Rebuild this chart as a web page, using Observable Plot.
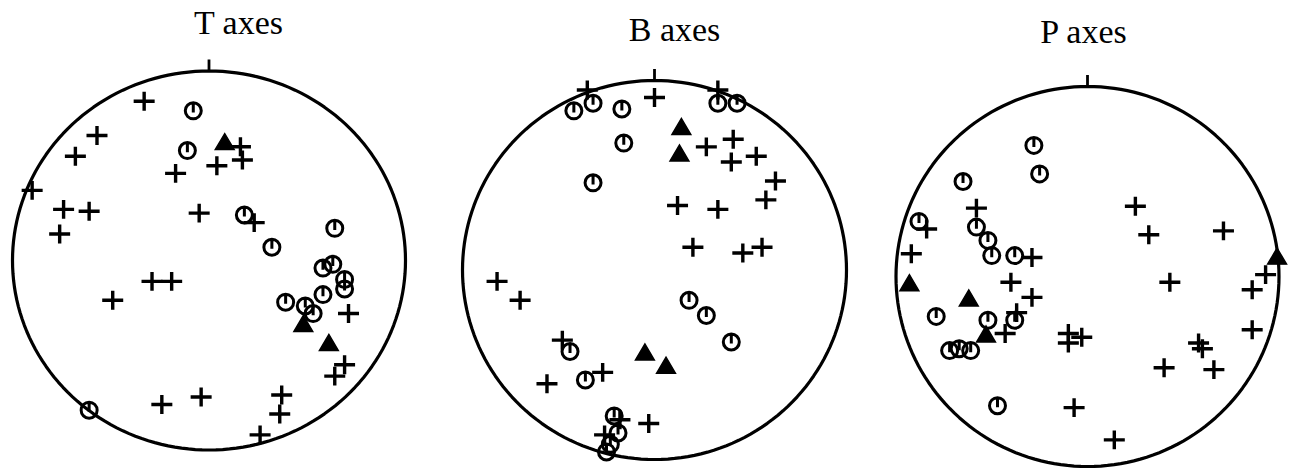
<!DOCTYPE html>
<html>
<head>
<meta charset="utf-8">
<script src="https://cdn.jsdelivr.net/npm/d3@7"></script>
<script src="https://cdn.jsdelivr.net/npm/@observablehq/plot@0.6"></script>
<style>
  html, body { margin: 0; padding: 0; background: #fff; }
  #chart { position: relative; width: 1289px; height: 470px; overflow: hidden; background: #fff; }
  #chart svg { position: absolute; top: 0; }
</style>
</head>
<body>
<div id="chart"></div>
<script>
// Stereonet projections of principal stress axes.
// Every point is [east, north] on the unit net (primitive circle = radius 1).

const titles = ["T axes", "B axes", "P axes"];

// ---- T axes ----
const tPlus = [
  [-0.33, 0.84], [-0.57, 0.66], [-0.68, 0.55], [-0.90, 0.37], [-0.74, 0.27],
  [-0.61, 0.26], [-0.76, 0.14], [-0.17, 0.46], [0.04, 0.50], [0.16, 0.60],
  [0.17, 0.53], [-0.05, 0.25], [0.23, 0.20], [-0.29, -0.11], [-0.19, -0.11],
  [-0.49, -0.21], [0.71, -0.28], [0.69, -0.55], [0.64, -0.61], [0.37, -0.71],
  [0.36, -0.81], [0.26, -0.92], [-0.04, -0.72], [-0.24, -0.76]
];
const tCircle = [
  [-0.08, 0.79], [-0.11, 0.58], [0.18, 0.24], [0.32, 0.07], [0.64, 0.17],
  [0.58, -0.04], [0.63, -0.02], [0.69, -0.10], [0.69, -0.15], [0.58, -0.18],
  [0.39, -0.22], [0.49, -0.24], [0.53, -0.28], [-0.61, -0.79]
];
const tTriangle = [[0.08, 0.62], [0.48, -0.34], [0.61, -0.44]];

// ---- B axes ----
const bPlus = [
  [-0.35, 0.95], [0.00, 0.91], [0.33, 0.95], [0.27, 0.65], [0.41, 0.69],
  [0.40, 0.57], [0.53, 0.60], [0.63, 0.47], [0.58, 0.37], [0.12, 0.34],
  [0.33, 0.32], [0.20, 0.12], [0.46, 0.09], [0.56, 0.12], [-0.82, -0.06],
  [-0.70, -0.16], [-0.48, -0.37], [-0.56, -0.60], [-0.27, -0.54], [-0.18, -0.79],
  [-0.03, -0.81], [-0.26, -0.87]
];
const bCircle = [
  [-0.42, 0.84], [-0.32, 0.88], [-0.17, 0.85], [-0.16, 0.67], [-0.32, 0.46],
  [0.33, 0.88], [0.43, 0.88], [0.18, -0.16], [0.27, -0.24], [0.40, -0.38],
  [-0.44, -0.43], [-0.36, -0.58], [-0.21, -0.77], [-0.19, -0.86], [-0.23, -0.92],
  [-0.25, -0.96]
];
const bTriangle = [[0.14, 0.75], [0.13, 0.61], [-0.05, -0.44], [0.06, -0.51]];

// ---- P axes ----
const pPlus = [
  [-0.58, 0.36], [-0.84, 0.25], [-0.92, 0.12], [-0.29, 0.10], [-0.40, -0.03],
  [-0.29, -0.11], [-0.37, -0.19], [-0.43, -0.30], [-0.10, -0.30], [-0.03, -0.32],
  [-0.10, -0.35], [0.25, 0.37], [0.32, 0.22], [0.71, 0.24], [0.43, -0.03],
  [0.86, -0.07], [0.93, 0.01], [0.86, -0.28], [0.58, -0.35], [0.60, -0.38],
  [0.66, -0.49], [0.40, -0.48], [-0.07, -0.69], [0.14, -0.86]
];
const pCircle = [
  [-0.28, 0.69], [-0.25, 0.54], [-0.65, 0.50], [-0.88, 0.29], [-0.58, 0.26],
  [-0.52, 0.19], [-0.50, 0.11], [-0.38, 0.11], [-0.79, -0.21], [-0.52, -0.23],
  [-0.38, -0.23], [-0.72, -0.39], [-0.67, -0.38], [-0.61, -0.39], [-0.47, -0.68]
];
const pTriangle = [[-0.93, -0.04], [-0.62, -0.12], [-0.53, -0.31], [0.99, 0.10]];

// Page placement of each net (pixels): svg slot, net centre and radii, title anchor.
const layout = [
  {left: 0,   width: 430, cx: 208.5, cy: 260,   rx: 196.5, ry: 189.5, titleX: 238,  titleY: 33},
  {left: 430, width: 430, cx: 654,   cy: 269.5, rx: 192,   ry: 189.5, titleX: 674,  titleY: 40},
  {left: 860, width: 429, cx: 1087,  cy: 276,   rx: 191.5, ry: 190,   titleX: 1083, titleY: 42}
];

const sets = [
  {plus: tPlus, circle: tCircle, triangle: tTriangle},
  {plus: bPlus, circle: bCircle, triangle: bTriangle},
  {plus: pPlus, circle: pCircle, triangle: pTriangle}
];

// Custom marker shapes (size is the symbol area, pi * r^2).
const radius = size => Math.sqrt(size / Math.PI);
const plusSymbol = {
  draw(ctx, size) {
    const r = radius(size);
    ctx.moveTo(-r, 0); ctx.lineTo(r, 0);
    ctx.moveTo(0, -0.9 * r); ctx.lineTo(0, 0.9 * r);
  }
};
const tickedCircle = {
  draw(ctx, size) {
    const r = radius(size);
    ctx.moveTo(r, 0);
    ctx.arc(0, 0, r, 0, 2 * Math.PI);
    ctx.moveTo(0, -r); ctx.lineTo(0, 0.2 * r);
  }
};
const triangleSymbol = {
  draw(ctx, size) {
    const r = radius(size);
    ctx.moveTo(0, -r);
    ctx.lineTo(r, 0.7 * r);
    ctx.lineTo(-r, 0.7 * r);
    ctx.closePath();
  }
};

const ring = d3.range(0, 361, 2).map(a => ({
  x: Math.sin(a * Math.PI / 180),
  y: Math.cos(a * Math.PI / 180)
}));

const H = 470;
const px = d => d[0], py = d => d[1];

function net(g, s, title) {
  const svg = Plot.plot({
    width: g.width,
    height: H,
    marginLeft: g.cx - g.rx - g.left,
    marginRight: g.left + g.width - (g.cx + g.rx),
    marginTop: g.cy - g.ry,
    marginBottom: H - (g.cy + g.ry),
    x: {domain: [-1, 1], axis: null},
    y: {domain: [-1, 1], axis: null},
    style: {background: "transparent", overflow: "visible"},
    marks: [
      Plot.line(ring, {x: "x", y: "y", stroke: "black", strokeWidth: 3.2}),
      // north mark
      Plot.ruleX([0], {y1: 1, y2: 1 + 11 / g.ry, stroke: "black", strokeWidth: 2.8}),
      Plot.dot(s.circle, {x: px, y: py, symbol: tickedCircle, r: 8,
        fill: "none", stroke: "black", strokeWidth: 3}),
      Plot.dot(s.plus, {x: px, y: py, symbol: plusSymbol, r: 10.5,
        fill: "none", stroke: "black", strokeWidth: 3.4}),
      Plot.dot(s.triangle, {x: px, y: py, symbol: triangleSymbol, r: 9.5,
        fill: "black", stroke: "black", strokeWidth: 1.4}),
      Plot.text([title], {
        frameAnchor: "top",
        dx: g.titleX - g.cx,
        dy: g.titleY - (g.cy - g.ry),
        lineAnchor: "bottom",
        fontSize: 34,
        fontFamily: "'Liberation Serif', 'Times New Roman', serif",
        fill: "black",
        letterSpacing: "2.5px"
      })
    ]
  });
  svg.style.left = g.left + "px";
  return svg;
}

const chart = document.getElementById("chart");
layout.forEach((g, i) => chart.appendChild(net(g, sets[i], titles[i])));
</script>
</body>
</html>
